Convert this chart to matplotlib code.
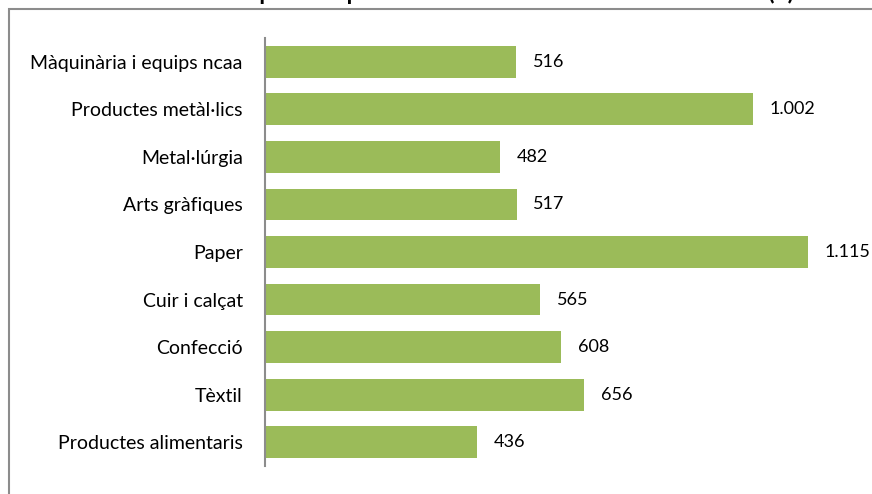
import matplotlib
matplotlib.use('Agg')
import matplotlib.pyplot as plt
from matplotlib.patches import Rectangle

categories = ['Màquinària i equips ncaa', 'Productes metàl·lics', 'Metal·lúrgia',
              'Arts gràfiques', 'Paper', 'Cuir i calçat', 'Confecció', 'Tèxtil',
              'Productes alimentaris']
values = [516, 1002, 482, 517, 1115, 565, 608, 656, 436]
value_labels = ['516', '1.002', '482', '517', '1.115', '565', '608', '656', '436']

plt.rcParams['font.family'] = ['Lato', 'DejaVu Sans']

fig = plt.figure(figsize=(8.72, 4.94), dpi=100)

# outer chart border (cut by the image edges)
fig.patches.append(Rectangle((9 / 872, -0.1), 1.0, 1 - 9 / 494 + 0.1,
                             transform=fig.transFigure, fill=False,
                             edgecolor='#8c8c8c', linewidth=1.5))

# title, mostly cut off at the top
fig.text(0.47, 1 - 0.5 / 494,
         "Gràfic 5. Resultats d'explotació per assalariat a la indústria tèxtil catalana (€)",
         ha='center', va='baseline', fontsize=16.5, fontweight='bold')

ax = fig.add_axes([265 / 872, 1 - 466 / 494, 1 - 265 / 872, 428 / 494])
y = list(range(len(categories)))
ax.barh(y, values, height=0.67, color='#9bbb59')
ax.set_ylim(len(categories) - 0.5, -0.5)
ax.set_xlim(0, 607 / 0.487)

for yi, v, lab in zip(y, values, value_labels):
    ax.text(v + 34, yi, lab, va='center', ha='left', fontsize=13)

ax.set_yticks(y)
ax.set_yticklabels(categories, fontsize=14)
ax.tick_params(axis='y', length=0, pad=16)
ax.set_xticks([])
for s in ['top', 'right', 'bottom']:
    ax.spines[s].set_visible(False)
ax.spines['left'].set_color('#8c8c8c')
ax.spines['left'].set_linewidth(1.5)
ax.patch.set_alpha(0)

fig.savefig('out.png', dpi=100)
